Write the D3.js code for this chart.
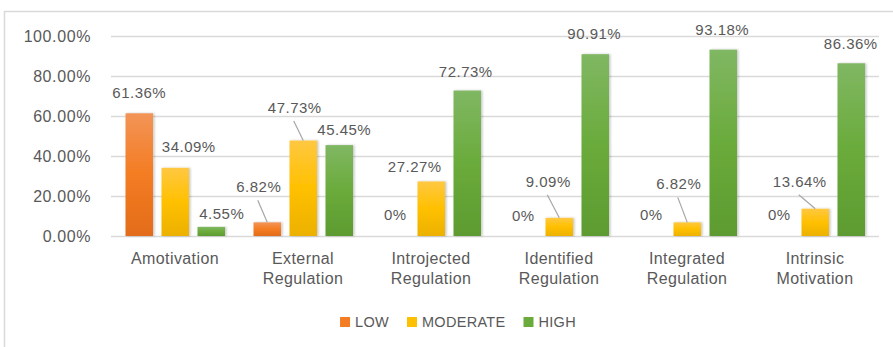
<!DOCTYPE html>
<html><head><meta charset="utf-8">
<script src="https://cdn.jsdelivr.net/npm/d3@7"></script>
<style>
body{margin:0;background:#fff;}
text{font-family:"Liberation Sans",Arial,sans-serif;fill:#595959;}
</style></head>
<body><svg id="c" width="893" height="347"></svg>
<script>
const categories = [["Amotivation"],["External","Regulation"],["Introjected","Regulation"],["Identified","Regulation"],["Integrated","Regulation"],["Intrinsic","Motivation"]];
const series = ["LOW","MODERATE","HIGH"];
const low = [61.36, 6.82, 0, 0, 0, 0];
const moderate = [34.09, 47.73, 27.27, 9.09, 6.82, 13.64];
const high = [4.55, 45.45, 72.73, 90.91, 93.18, 86.36];
const yTicks = [0, 20, 40, 60, 80, 100];
// label placement offsets [dx, dy, leader] relative to bar top centre (Excel auto-placement)
const labelOffsets = {
  LOW:      [[0,-15,0],[-8.5,-30,1],[0,-16,0],[0,-15,0],[0,-16,0],[0,-16,0]],
  MODERATE: [[13.5,-16,0],[-8.5,-27.5,1],[-16.5,-9.5,0],[-11,-31,1],[-8.5,-33,1],[-15.5,-22,1]],
  HIGH:     [[10.5,-8,0],[5,-10,0],[-1.5,-14,0],[-1,-15,0],[-1,-14.6,0],[-0.5,-14,0]]
};
const values = {LOW: low, MODERATE: moderate, HIGH: high};
const colors = {
  LOW: ["#f29457","#f47c22","#e36c1b"],
  MODERATE: ["#ffc841","#ffc000","#ecb100"],
  HIGH: ["#80b763","#6aab3b","#5d9b30"]
};

const svg = d3.select("#c");
const defs = svg.append("defs");
series.forEach(s=>{
  const g = defs.append("linearGradient").attr("id","g"+s).attr("x1",0).attr("y1",0).attr("x2",0).attr("y2",1);
  g.append("stop").attr("offset","0%").attr("stop-color",colors[s][0]);
  g.append("stop").attr("offset","50%").attr("stop-color",colors[s][1]);
  g.append("stop").attr("offset","100%").attr("stop-color",colors[s][2]);
});
const f = defs.append("filter").attr("id","sh").attr("x","-20%").attr("y","-5%").attr("width","150%").attr("height","110%");
f.append("feDropShadow").attr("dx",1.5).attr("dy",0).attr("stdDeviation",1).attr("flood-color","#000").attr("flood-opacity",0.22);

// chart border
svg.append("rect").attr("x",4.5).attr("y",11.5).attr("width",900).attr("height",400)
  .attr("fill","none").attr("stroke","#d9d9d9").attr("stroke-width",1.5);

const x0 = d3.scaleBand().domain(d3.range(categories.length)).range([111,879]);
const x1 = d3.scaleBand().domain(series).range([14.5,114]).paddingInner(0.236);
const y = d3.scaleLinear().domain([0,100]).range([236,36]);

// gridlines
const yAxis = d3.axisLeft(y).tickValues(yTicks).tickSize(-(879-111)).tickFormat(d=>d.toFixed(2)+"%").tickPadding(20);
const ga = svg.append("g").attr("transform","translate(111,0)").call(yAxis);
ga.select(".domain").remove();
ga.selectAll(".tick line").attr("stroke","#d9d9d9").attr("stroke-width",1.5);
ga.selectAll(".tick text").attr("font-size","16px").attr("letter-spacing","0.6px").attr("fill","#595959")
  .attr("font-family","Liberation Sans, Arial, sans-serif");

// bars
const groups = svg.append("g").selectAll("g").data(categories).join("g")
  .attr("transform",(d,i)=>`translate(${x0(i)},0)`);
groups.each(function(d,i){
  const g = d3.select(this);
  series.forEach(s=>{
    const v = values[s][i];
    if (v>0) g.append("rect").attr("x",x1(s)).attr("y",y(v)).attr("width",x1.bandwidth())
      .attr("height",y(0)-y(v)).attr("fill",`url(#g${s})`).attr("filter","url(#sh)");
  });
});

// data labels
const lab = svg.append("g");
categories.forEach((c,i)=>{
  series.forEach(s=>{
    const v = values[s][i];
    const [dx,dy,leader] = labelOffsets[s][i];
    const cx = x0(i)+x1(s)+x1.bandwidth()/2;
    const top = y(v);
    const lx = cx+dx, ly = top+dy;
    lab.append("text").attr("x",lx).attr("y",ly).attr("text-anchor","middle")
      .attr("font-size","15px").attr("letter-spacing","0.5px")
      .text(v===0 ? "0%" : v.toFixed(2)+"%");
    if (leader) lab.append("line").attr("x1",lx-1).attr("y1",ly+8).attr("x2",cx).attr("y2",top)
      .attr("stroke","#a6a6a6").attr("stroke-width",1.2);
  });
});

// category labels
categories.forEach((c,i)=>{
  const t = svg.append("text").attr("x",x0(i)+x0.bandwidth()/2).attr("y",264)
    .attr("text-anchor","middle").attr("font-size","16px").attr("letter-spacing","0.4px");
  c.forEach((line,j)=>t.append("tspan").attr("x",x0(i)+x0.bandwidth()/2).attr("dy",j?20:0).text(line));
});

// legend
const lg = svg.append("g");
let lxpos = 0;
series.forEach((s,k)=>{
  const it = lg.append("g").attr("transform",`translate(${lxpos},0)`);
  it.append("rect").attr("x",0).attr("y",-10).attr("width",10).attr("height",10).attr("fill",colors[s][1]);
  const t = it.append("text").attr("x",15).attr("y",0).attr("font-size","14.5px").attr("letter-spacing","0.3px").text(s);
  lxpos += 15 + t.node().getComputedTextLength() + 18;
});
const lw = lxpos - 18;
lg.attr("transform",`translate(${458 - lw/2},327)`);
</script></body></html>
